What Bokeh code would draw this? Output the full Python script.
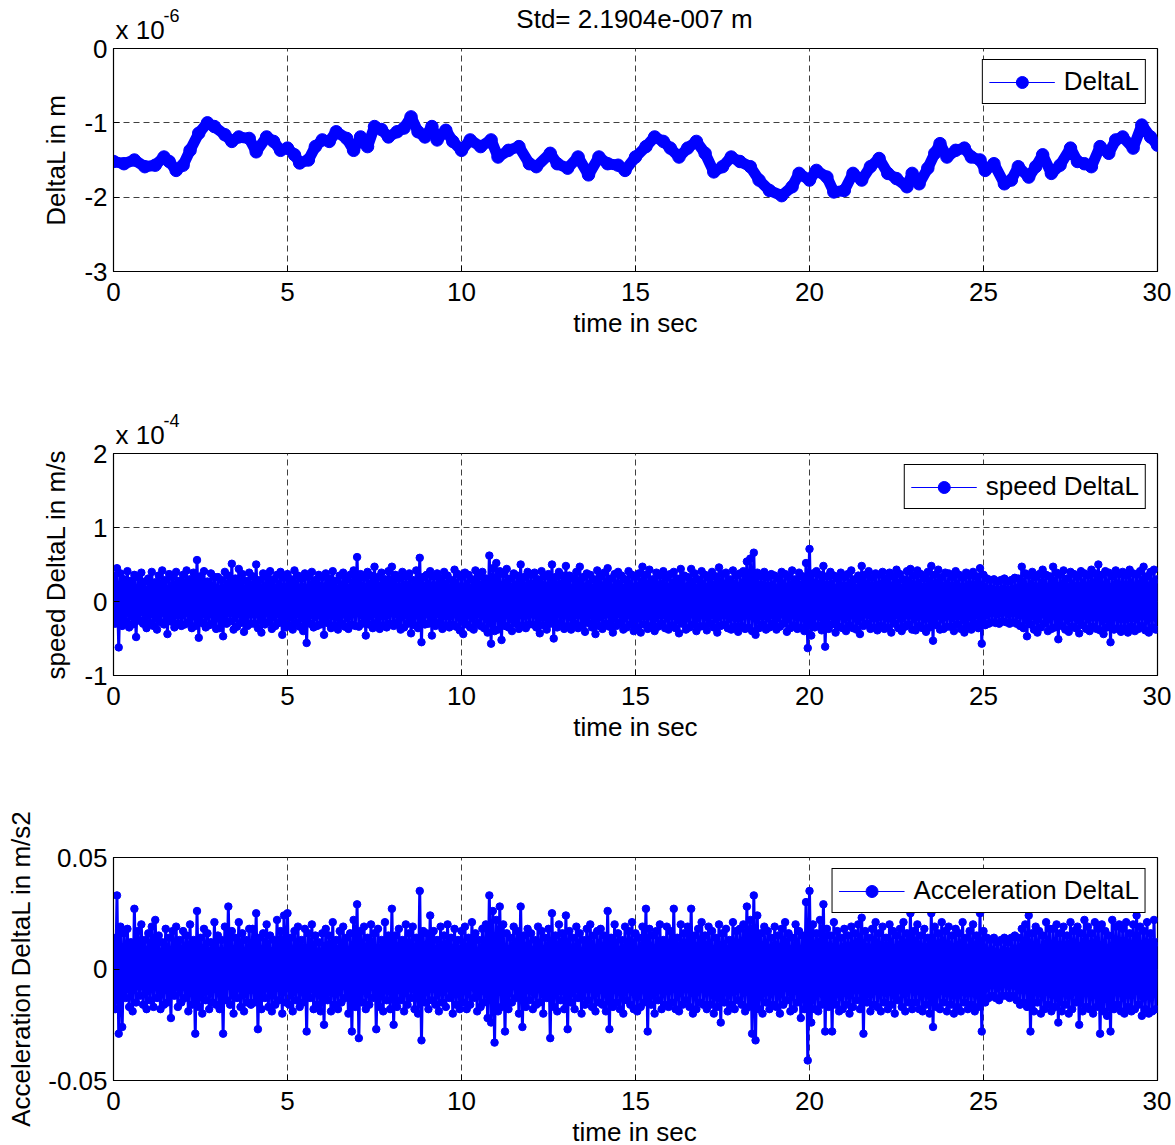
import math
import numpy as np
from bokeh.plotting import figure
from bokeh.models import (Range1d, FixedTicker, Label, Legend, LegendItem,
                          ColumnDataSource, CustomJSTickFormatter)
from bokeh.layouts import column, row
from bokeh.embed import file_html
from bokeh.resources import INLINE

FONT = "Liberation Sans"
BLUE = "#0000ff"

x_ticks = [0, 5, 10, 15, 20, 25, 30]
y1_ticks = [-3, -2, -1, 0]
y2_ticks = [-1, 0, 1, 2]
y3_ticks = [-0.05, 0, 0.05]

# DeltaL in units of 1e-6 m
deltaL_t = [
    0.0, 0.3, 0.6, 0.9, 1.2, 1.45, 1.6, 1.8, 2.0, 2.2,
    2.45, 2.7, 2.9, 3.2, 3.4, 3.6, 3.9, 4.1, 4.4, 4.6,
    4.8, 5.0, 5.2, 5.35, 5.6, 5.8, 6.0, 6.2, 6.4, 6.7,
    6.9, 7.1, 7.3, 7.5, 7.7, 7.9, 8.15, 8.35, 8.55, 8.75,
    8.95, 9.15, 9.3, 9.55, 9.75, 10.0, 10.25, 10.55, 10.85, 11.05,
    11.35, 11.65, 11.95, 12.15, 12.55, 12.75, 13.05, 13.35, 13.65, 13.95,
    14.2, 14.5, 14.7, 15.0, 15.3, 15.55, 15.8, 16.0, 16.25, 16.5,
    16.75, 17.0, 17.25, 17.5, 17.75, 18.0, 18.3, 18.55, 18.85, 19.2,
    19.5, 19.7, 20.0, 20.2, 20.5, 20.7, 21.0, 21.25, 21.5, 21.75,
    22.0, 22.25, 22.5, 22.8, 22.95, 23.15, 23.4, 23.6, 23.75, 23.95,
    24.2, 24.45, 24.65, 24.9, 25.05, 25.3, 25.6, 25.8, 26.0, 26.3,
    26.5, 26.7, 26.95, 27.2, 27.5, 27.7, 27.9, 28.1, 28.35, 28.6,
    28.8, 29.0, 29.3, 29.55, 29.8, 30.0]
deltaL_e6 = [
    -1.52, -1.55, -1.50, -1.59, -1.57, -1.46, -1.52, -1.64, -1.57, -1.37,
    -1.14, -1.00, -1.05, -1.16, -1.25, -1.19, -1.21, -1.39, -1.19, -1.25,
    -1.37, -1.34, -1.43, -1.54, -1.50, -1.32, -1.23, -1.25, -1.12, -1.21,
    -1.37, -1.19, -1.32, -1.05, -1.09, -1.19, -1.12, -1.07, -0.92, -1.12,
    -1.19, -1.05, -1.23, -1.10, -1.25, -1.37, -1.23, -1.32, -1.23, -1.46,
    -1.37, -1.32, -1.55, -1.59, -1.41, -1.55, -1.61, -1.46, -1.70, -1.46,
    -1.55, -1.57, -1.64, -1.46, -1.32, -1.19, -1.25, -1.34, -1.46, -1.34,
    -1.25, -1.41, -1.66, -1.59, -1.46, -1.52, -1.59, -1.77, -1.91, -1.98,
    -1.86, -1.68, -1.77, -1.64, -1.73, -1.93, -1.91, -1.68, -1.77, -1.59,
    -1.48, -1.68, -1.75, -1.86, -1.68, -1.82, -1.61, -1.41, -1.28, -1.46,
    -1.37, -1.34, -1.46, -1.50, -1.64, -1.55, -1.82, -1.77, -1.59, -1.73,
    -1.59, -1.43, -1.68, -1.57, -1.34, -1.52, -1.55, -1.59, -1.32, -1.41,
    -1.23, -1.19, -1.34, -1.03, -1.19, -1.30]

# speed of DeltaL in units of 1e-4 m/s, one value every 0.05 s
speed_e4 = [
    0.35,-0.30,0.45,-0.62,0.38,-0.33,0.30,-0.27,0.41,-0.35,0.28,-0.31,0.36,-0.48,0.33,-0.26,0.39,-0.30,0.27,-0.36,
    0.31,-0.29,0.40,-0.33,0.26,-0.38,0.35,-0.28,0.42,-0.31,0.29,-0.44,0.37,-0.27,0.33,-0.35,0.40,-0.30,0.28,-0.33,
    0.36,-0.31,0.42,-0.28,0.30,-0.36,0.39,-0.33,0.56,-0.49,0.34,-0.29,0.41,-0.35,0.27,-0.32,0.38,-0.30,0.33,-0.37,
    0.33,-0.36,0.29,-0.47,0.40,-0.30,0.35,-0.27,0.51,-0.38,0.31,-0.34,0.44,-0.29,0.37,-0.41,0.28,-0.33,0.39,-0.30,
    0.34,-0.30,0.50,-0.36,0.29,-0.42,0.38,-0.31,0.33,-0.28,0.41,-0.37,0.30,-0.33,0.36,-0.29,0.40,-0.45,0.32,-0.35,
    0.37,-0.32,0.30,-0.38,0.42,-0.29,0.35,-0.34,0.31,-0.40,0.38,-0.56,0.33,-0.30,0.40,-0.35,0.29,-0.33,0.36,-0.31,
    0.33,-0.45,0.38,-0.29,0.31,-0.36,0.41,-0.32,0.28,-0.38,0.35,-0.30,0.39,-0.34,0.30,-0.37,0.36,-0.31,0.42,-0.33,
    0.60,-0.34,0.37,-0.30,0.32,-0.46,0.40,-0.31,0.35,-0.36,0.47,-0.29,0.33,-0.37,0.39,-0.32,0.30,-0.35,0.41,-0.30,
    0.47,-0.33,0.36,-0.29,0.31,-0.38,0.40,-0.35,0.34,-0.30,0.38,-0.43,0.29,-0.32,0.42,-0.36,0.59,-0.55,0.33,-0.31,
    0.36,-0.30,0.41,-0.46,0.34,-0.33,0.38,-0.29,0.31,-0.37,0.40,-0.32,0.35,-0.35,0.29,-0.31,0.43,-0.34,0.37,-0.39,
    0.33,-0.44,0.39,-0.31,0.36,-0.35,0.30,-0.38,0.42,-0.29,0.34,-0.33,0.40,-0.36,0.31,-0.42,0.62,-0.57,0.45,-0.40,
    0.52,-0.38,0.41,-0.52,0.37,-0.33,0.44,-0.35,0.31,-0.40,0.38,-0.30,0.35,-0.37,0.50,-0.32,0.33,-0.36,0.40,-0.31,
    0.36,-0.31,0.39,-0.35,0.30,-0.43,0.41,-0.32,0.34,-0.38,0.37,-0.30,0.50,-0.50,0.33,-0.35,0.40,-0.29,0.35,-0.37,
    0.48,-0.33,0.35,-0.38,0.31,-0.30,0.40,-0.36,0.47,-0.32,0.33,-0.41,0.38,-0.29,0.36,-0.35,0.30,-0.44,0.42,-0.33,
    0.34,-0.37,0.39,-0.30,0.45,-0.34,0.31,-0.42,0.37,-0.33,0.40,-0.29,0.35,-0.38,0.30,-0.35,0.41,-0.31,0.36,-0.40,
    0.33,-0.35,0.38,-0.42,0.47,-0.31,0.36,-0.37,0.43,-0.33,0.30,-0.40,0.39,-0.34,0.35,-0.30,0.41,-0.36,0.32,-0.38,
    0.37,-0.32,0.40,-0.36,0.31,-0.43,0.44,-0.30,0.35,-0.38,0.33,-0.35,0.44,-0.31,0.38,-0.40,0.30,-0.34,0.41,-0.33,
    0.36,-0.39,0.32,-0.30,0.40,-0.35,0.34,-0.42,0.46,-0.33,0.37,-0.31,0.39,-0.36,0.30,-0.38,0.42,-0.34,0.35,-0.41,
    0.38,-0.33,0.41,-0.37,0.54,-0.35,0.58,-0.40,0.66,-0.45,0.39,-0.36,0.34,-0.31,0.40,-0.38,0.33,-0.35,0.37,-0.30,
    0.35,-0.38,0.31,-0.34,0.40,-0.30,0.37,-0.41,0.33,-0.36,0.42,-0.32,0.30,-0.37,0.39,-0.35,0.34,-0.40,0.52,-0.63,
    0.71,-0.46,0.38,-0.35,0.41,-0.33,0.36,-0.39,0.48,-0.61,0.34,-0.37,0.40,-0.31,0.35,-0.42,0.31,-0.34,0.39,-0.36,
    0.33,-0.40,0.37,-0.32,0.42,-0.36,0.30,-0.38,0.35,-0.44,0.48,-0.33,0.36,-0.30,0.41,-0.37,0.32,-0.35,0.38,-0.39,
    0.36,-0.33,0.40,-0.37,0.31,-0.35,0.39,-0.42,0.34,-0.30,0.43,-0.36,0.37,-0.40,0.30,-0.34,0.41,-0.31,0.44,-0.38,
    0.35,-0.39,0.42,-0.33,0.37,-0.36,0.31,-0.41,0.40,-0.35,0.48,-0.53,0.36,-0.32,0.43,-0.38,0.33,-0.37,0.39,-0.34,
    0.38,-0.34,0.33,-0.40,0.41,-0.31,0.36,-0.37,0.32,-0.42,0.39,-0.33,0.35,-0.38,0.40,-0.30,0.34,-0.36,0.45,-0.57,
    0.36,-0.32,0.31,-0.30,0.29,-0.28,0.30,-0.29,0.27,-0.30,0.29,-0.27,0.31,-0.28,0.27,-0.30,0.29,-0.28,0.32,-0.30,
    0.31,-0.33,0.47,-0.36,0.38,-0.47,0.35,-0.31,0.40,-0.38,0.33,-0.42,0.37,-0.35,0.43,-0.30,0.36,-0.40,0.34,-0.37,
    0.47,-0.35,0.39,-0.51,0.36,-0.33,0.42,-0.38,0.31,-0.41,0.40,-0.34,0.37,-0.36,0.33,-0.43,0.41,-0.32,0.38,-0.37,
    0.35,-0.40,0.43,-0.34,0.38,-0.37,0.50,-0.39,0.36,-0.44,0.41,-0.35,0.39,-0.55,0.34,-0.38,0.42,-0.36,0.37,-0.41,
    0.40,-0.36,0.35,-0.42,0.43,-0.34,0.38,-0.40,0.36,-0.37,0.41,-0.33,0.47,-0.39,0.34,-0.42,0.40,-0.35,0.43,-0.38,
    0.30]

# acceleration of DeltaL in m/s^2, one value every 0.05 s
accel = [
    0.014,-0.018,0.033,-0.029,0.019,-0.026,0.016,-0.013,0.018,-0.017,0.012,-0.019,0.027,-0.015,0.017,-0.012,0.020,-0.016,0.013,-0.018,
    0.016,-0.014,0.019,-0.017,0.022,-0.013,0.015,-0.018,0.012,-0.016,0.018,-0.015,0.014,-0.022,0.017,-0.012,0.019,-0.017,0.013,-0.015,
    0.017,-0.013,0.015,-0.019,0.020,-0.016,0.013,-0.029,0.026,-0.017,0.014,-0.020,0.018,-0.014,0.016,-0.018,0.012,-0.015,0.021,-0.016,
    0.015,-0.018,0.013,-0.029,0.019,-0.014,0.028,-0.016,0.017,-0.020,0.014,-0.013,0.021,-0.017,0.016,-0.019,0.013,-0.015,0.018,-0.016,
    0.018,-0.015,0.025,-0.027,0.014,-0.018,0.016,-0.013,0.020,-0.017,0.015,-0.019,0.013,-0.016,0.022,-0.014,0.017,-0.020,0.024,-0.015,
    0.025,-0.016,0.014,-0.019,0.017,-0.014,0.019,-0.017,0.013,-0.015,0.018,-0.028,0.016,-0.013,0.020,-0.018,0.015,-0.016,0.012,-0.019,
    0.016,-0.025,0.018,-0.014,0.015,-0.019,0.021,-0.016,0.013,-0.018,0.017,-0.015,0.019,-0.013,0.014,-0.020,0.016,-0.028,0.022,-0.017,
    0.029,-0.031,0.017,-0.015,0.019,-0.018,0.014,-0.016,0.020,-0.013,0.016,-0.027,0.018,-0.017,0.013,-0.019,0.021,-0.014,0.015,-0.018,
    0.027,-0.025,0.015,-0.017,0.018,-0.014,0.013,-0.019,0.020,-0.016,0.016,-0.013,0.019,-0.018,0.014,-0.020,0.035,-0.032,0.017,-0.015,
    0.016,-0.018,0.024,-0.014,0.017,-0.016,0.013,-0.019,0.019,-0.015,0.015,-0.017,0.020,-0.013,0.014,-0.020,0.018,-0.016,0.013,-0.018,
    0.017,-0.015,0.019,-0.018,0.014,-0.016,0.021,-0.013,0.016,-0.019,0.013,-0.017,0.018,-0.015,0.020,-0.022,0.033,-0.024,0.026,-0.033,
    0.022,-0.019,0.028,-0.017,0.020,-0.028,0.016,-0.018,0.014,-0.015,0.019,-0.013,0.017,-0.020,0.028,-0.026,0.015,-0.017,0.018,-0.014,
    0.016,-0.018,0.013,-0.016,0.019,-0.015,0.017,-0.020,0.014,-0.013,0.018,-0.031,0.025,-0.017,0.015,-0.019,0.020,-0.014,0.016,-0.018,
    0.024,-0.027,0.017,-0.015,0.014,-0.018,0.019,-0.013,0.016,-0.020,0.013,-0.016,0.018,-0.014,0.020,-0.017,0.015,-0.019,0.017,-0.015,
    0.018,-0.016,0.015,-0.019,0.026,-0.027,0.014,-0.017,0.020,-0.015,0.016,-0.018,0.013,-0.020,0.019,-0.014,0.017,-0.016,0.021,-0.018,
    0.016,-0.019,0.014,-0.017,0.019,-0.015,0.027,-0.028,0.018,-0.016,0.015,-0.020,0.017,-0.014,0.020,-0.018,0.013,-0.016,0.019,-0.017,
    0.017,-0.015,0.027,-0.018,0.014,-0.019,0.020,-0.016,0.016,-0.014,0.019,-0.017,0.027,-0.020,0.015,-0.018,0.018,-0.015,0.021,-0.016,
    0.015,-0.018,0.019,-0.016,0.017,-0.020,0.014,-0.017,0.020,-0.024,0.016,-0.015,0.018,-0.019,0.013,-0.016,0.021,-0.018,0.017,-0.014,
    0.018,-0.016,0.020,-0.019,0.028,-0.017,0.022,-0.029,0.033,-0.032,0.024,-0.018,0.016,-0.020,0.019,-0.015,0.017,-0.018,0.014,-0.016,
    0.019,-0.017,0.015,-0.020,0.018,-0.016,0.021,-0.014,0.016,-0.019,0.014,-0.018,0.020,-0.015,0.017,-0.022,0.015,-0.018,0.030,-0.041,
    0.035,-0.024,0.020,-0.018,0.016,-0.019,0.022,-0.016,0.029,-0.028,0.018,-0.017,0.015,-0.028,0.021,-0.016,0.017,-0.019,0.014,-0.018,
    0.018,-0.016,0.015,-0.020,0.019,-0.017,0.016,-0.014,0.020,-0.018,0.023,-0.029,0.017,-0.015,0.014,-0.019,0.018,-0.016,0.021,-0.017,
    0.016,-0.019,0.019,-0.015,0.014,-0.018,0.020,-0.016,0.017,-0.020,0.015,-0.014,0.018,-0.017,0.021,-0.019,0.016,-0.015,0.025,-0.018,
    0.017,-0.015,0.020,-0.018,0.015,-0.019,0.018,-0.016,0.014,-0.020,0.025,-0.026,0.019,-0.017,0.016,-0.018,0.021,-0.015,0.017,-0.019,
    0.019,-0.016,0.015,-0.020,0.018,-0.017,0.016,-0.019,0.021,-0.015,0.014,-0.018,0.017,-0.016,0.020,-0.019,0.015,-0.017,0.025,-0.028,
    0.017,-0.015,0.014,-0.013,0.013,-0.012,0.014,-0.013,0.012,-0.014,0.013,-0.012,0.014,-0.012,0.012,-0.013,0.014,-0.012,0.015,-0.014,
    0.014,-0.016,0.018,-0.015,0.020,-0.017,0.024,-0.028,0.016,-0.019,0.019,-0.015,0.017,-0.020,0.015,-0.018,0.021,-0.016,0.018,-0.019,
    0.018,-0.017,0.020,-0.024,0.016,-0.019,0.019,-0.016,0.015,-0.020,0.021,-0.018,0.017,-0.015,0.019,-0.025,0.016,-0.019,0.022,-0.017,
    0.019,-0.018,0.016,-0.020,0.021,-0.017,0.018,-0.029,0.020,-0.019,0.017,-0.021,0.015,-0.028,0.022,-0.018,0.019,-0.016,0.020,-0.019,
    0.018,-0.020,0.021,-0.017,0.016,-0.019,0.020,-0.018,0.024,-0.016,0.019,-0.021,0.017,-0.018,0.021,-0.020,0.016,-0.019,0.022,-0.018,
    0.012]

speed_t = np.linspace(0, 30, len(speed_e4))
accel_t = np.linspace(0, 30, len(accel))

# ---------------- layout geometry (page pixels) ----------------
OX, OY = 0, 0          # where the layout starts on the page
STRIP_W = 36           # left strip holding the long rotated label
COL_X = OX + STRIP_W   # left edge of the plot column
FRAME_X = 113          # page x of every frame's left edge
LEFT = FRAME_X - COL_X
RIGHT = 14
FRAME_W = 1044

T0_H, T1_H, T3_H = 39, 93, 22
P1_T, P2_T, P3_T = 9, 9, 102
P1_B, P2_B, P3_B = 80, 80, 41
P1_FH, P2_FH, P3_FH = 223, 222, 223

t0_top = OY
p1_top = t0_top + T0_H
t1_top = p1_top + P1_T + P1_FH + P1_B
p2_top = t1_top + T1_H
p3_top = p2_top + P2_T + P2_FH + P2_B
t3_top = p3_top + P3_T + P3_FH + P3_B
TOTAL_H = t3_top + T3_H - OY

MID26 = 9.0   # baseline -> visual middle for 26px text
MID18 = 6.2   # same for 18px text


def make_fig(yr, yticks, frame_h, top, bottom):
    p = figure(frame_width=FRAME_W, frame_height=frame_h,
               x_range=Range1d(0, 30), y_range=Range1d(*yr),
               output_backend="svg", toolbar_location=None,
               title_location=None,
               min_border_left=LEFT, min_border_right=RIGHT,
               min_border_top=top, min_border_bottom=bottom,
               background_fill_color="white", border_fill_color="white")
    p.outline_line_color = "black"
    p.outline_line_width = 1.2
    p.outline_line_alpha = 1
    p.xaxis.ticker = FixedTicker(ticks=x_ticks)
    p.yaxis.ticker = FixedTicker(ticks=yticks)
    p.yaxis.formatter = CustomJSTickFormatter(code="return tick.toString();")
    for ax in (p.xaxis[0], p.yaxis[0]):
        ax.major_tick_in = 6
        ax.major_tick_out = 0
        ax.minor_tick_line_color = None
        ax.axis_line_color = "black"
        ax.major_tick_line_color = "black"
        ax.major_label_text_font = FONT
        ax.major_label_text_font_size = "26px"
        ax.major_label_text_color = "black"
        ax.axis_label_text_font = FONT
        ax.axis_label_text_font_size = "26px"
        ax.axis_label_text_font_style = "normal"
        ax.axis_label_text_color = "black"
    p.xaxis.major_label_standoff = 11
    p.xaxis.axis_label_standoff = 4
    p.yaxis.major_label_standoff = 6
    p.yaxis.axis_label_standoff = 10
    p.grid.grid_line_color = "#404040"
    p.grid.grid_line_dash = "6 4"
    p.grid.grid_line_width = 1
    return p


def text_fig(height):
    # same horizontal frame as the plots, frame covers the full height
    f = figure(frame_width=FRAME_W, frame_height=height,
               x_range=Range1d(0, FRAME_W), y_range=Range1d(0, height),
               x_axis_type=None, y_axis_type=None, title_location=None,
               output_backend="svg", toolbar_location=None,
               min_border_left=LEFT, min_border_right=RIGHT,
               min_border_top=0, min_border_bottom=0,
               background_fill_color="white", border_fill_color="white")
    f.outline_line_color = None
    return f


def put(f, top, h, page_x, page_y_base, s, size=26, align="left"):
    mid = MID26 if size == 26 else MID18
    f.add_layout(Label(x=page_x - FRAME_X, y=top + h - (page_y_base - mid),
                       text=s, text_font=FONT, text_font_size=f"{size}px",
                       text_align=align, text_baseline="middle",
                       text_color="black"))


def legend(p, label):
    nan = ColumnDataSource(data=dict(x=[float("nan")], y=[float("nan")]))
    lr = p.line("x", "y", source=nan, line_color=BLUE, line_width=1)
    cr = p.scatter("x", "y", source=nan, marker="circle", size=6,
                   fill_color=BLUE, line_color=BLUE)
    lg = Legend(items=[LegendItem(label=label, renderers=[lr, cr])],
                location="top_right", margin=11, padding=6, spacing=0,
                glyph_width=66, glyph_height=30, label_standoff=9,
                label_text_font=FONT, label_text_font_size="26px",
                label_text_color="black",
                border_line_color="black", border_line_width=1,
                border_line_alpha=1,
                background_fill_color="white", background_fill_alpha=1)
    p.add_layout(lg)


# ---- title row ----
t0 = text_fig(T0_H)
put(t0, t0_top, T0_H, 634, 27, "Std= 2.1904e-007 m", align="center")
put(t0, t0_top, T0_H, 115, 38, "x 10")
put(t0, t0_top, T0_H, 163, 21, "-6", size=18)

# ---- top: DeltaL ----
p1 = make_fig((-3, 0), y1_ticks, P1_FH, P1_T, P1_B)
p1.yaxis.axis_label = "DeltaL in m"
p1.xaxis.axis_label = "time in sec"
src1 = ColumnDataSource(data=dict(t=deltaL_t, v=deltaL_e6))
p1.line("t", "v", source=src1, line_color=BLUE, line_width=11,
        line_join="round", line_cap="round")
p1.scatter("t", "v", source=src1, marker="circle", size=12.5,
           fill_color=BLUE, line_color=BLUE)
legend(p1, "DeltaL")

t1 = text_fig(T1_H)
put(t1, t1_top, T1_H, 115, 443, "x 10")
put(t1, t1_top, T1_H, 163, 426, "-4", size=18)

# ---- middle: speed ----
p2 = make_fig((-1, 2), y2_ticks, P2_FH, P2_T, P2_B)
p2.yaxis.axis_label = "speed DeltaL in m/s"
p2.xaxis.axis_label = "time in sec"
src2 = ColumnDataSource(data=dict(t=speed_t, v=speed_e4))
p2.line("t", "v", source=src2, line_color=BLUE, line_width=3)
p2.scatter("t", "v", source=src2, marker="circle", size=7.5,
           fill_color=BLUE, line_color=BLUE)
legend(p2, "speed DeltaL")

# ---- bottom: acceleration ----
p3 = make_fig((-0.05, 0.05), y3_ticks, P3_FH, P3_T, P3_B)
p3.yaxis.formatter = CustomJSTickFormatter(
    code="return Math.abs(tick) < 1e-12 ? '0' : tick.toFixed(2);")
src3 = ColumnDataSource(data=dict(t=accel_t, v=accel))
p3.line("t", "v", source=src3, line_color=BLUE, line_width=3)
p3.scatter("t", "v", source=src3, marker="circle", size=7.5,
           fill_color=BLUE, line_color=BLUE)
legend(p3, "Acceleration DeltaL")

t3 = text_fig(T3_H)
put(t3, t3_top, T3_H, 634, 1140, "time in sec", align="center")

# ---- left strip with the long y label of the bottom plot ----
strip = figure(frame_width=STRIP_W, frame_height=TOTAL_H,
               x_range=Range1d(0, STRIP_W), y_range=Range1d(0, TOTAL_H),
               x_axis_type=None, y_axis_type=None, title_location=None,
               output_backend="svg", toolbar_location=None, min_border=0,
               background_fill_color="white", border_fill_color="white")
strip.outline_line_color = None
strip.add_layout(Label(x=20.5 - OX, y=OY + TOTAL_H - 968,
                       text="Acceleration DeltaL in m/s2", text_font=FONT,
                       text_font_size="26px", angle=math.pi / 2,
                       text_align="center", text_baseline="middle",
                       text_color="black"))

layout = row(strip, column(t0, p1, t1, p2, p3, t3, spacing=0), spacing=0)
open("out.html", "w").write(file_html(layout, INLINE))
